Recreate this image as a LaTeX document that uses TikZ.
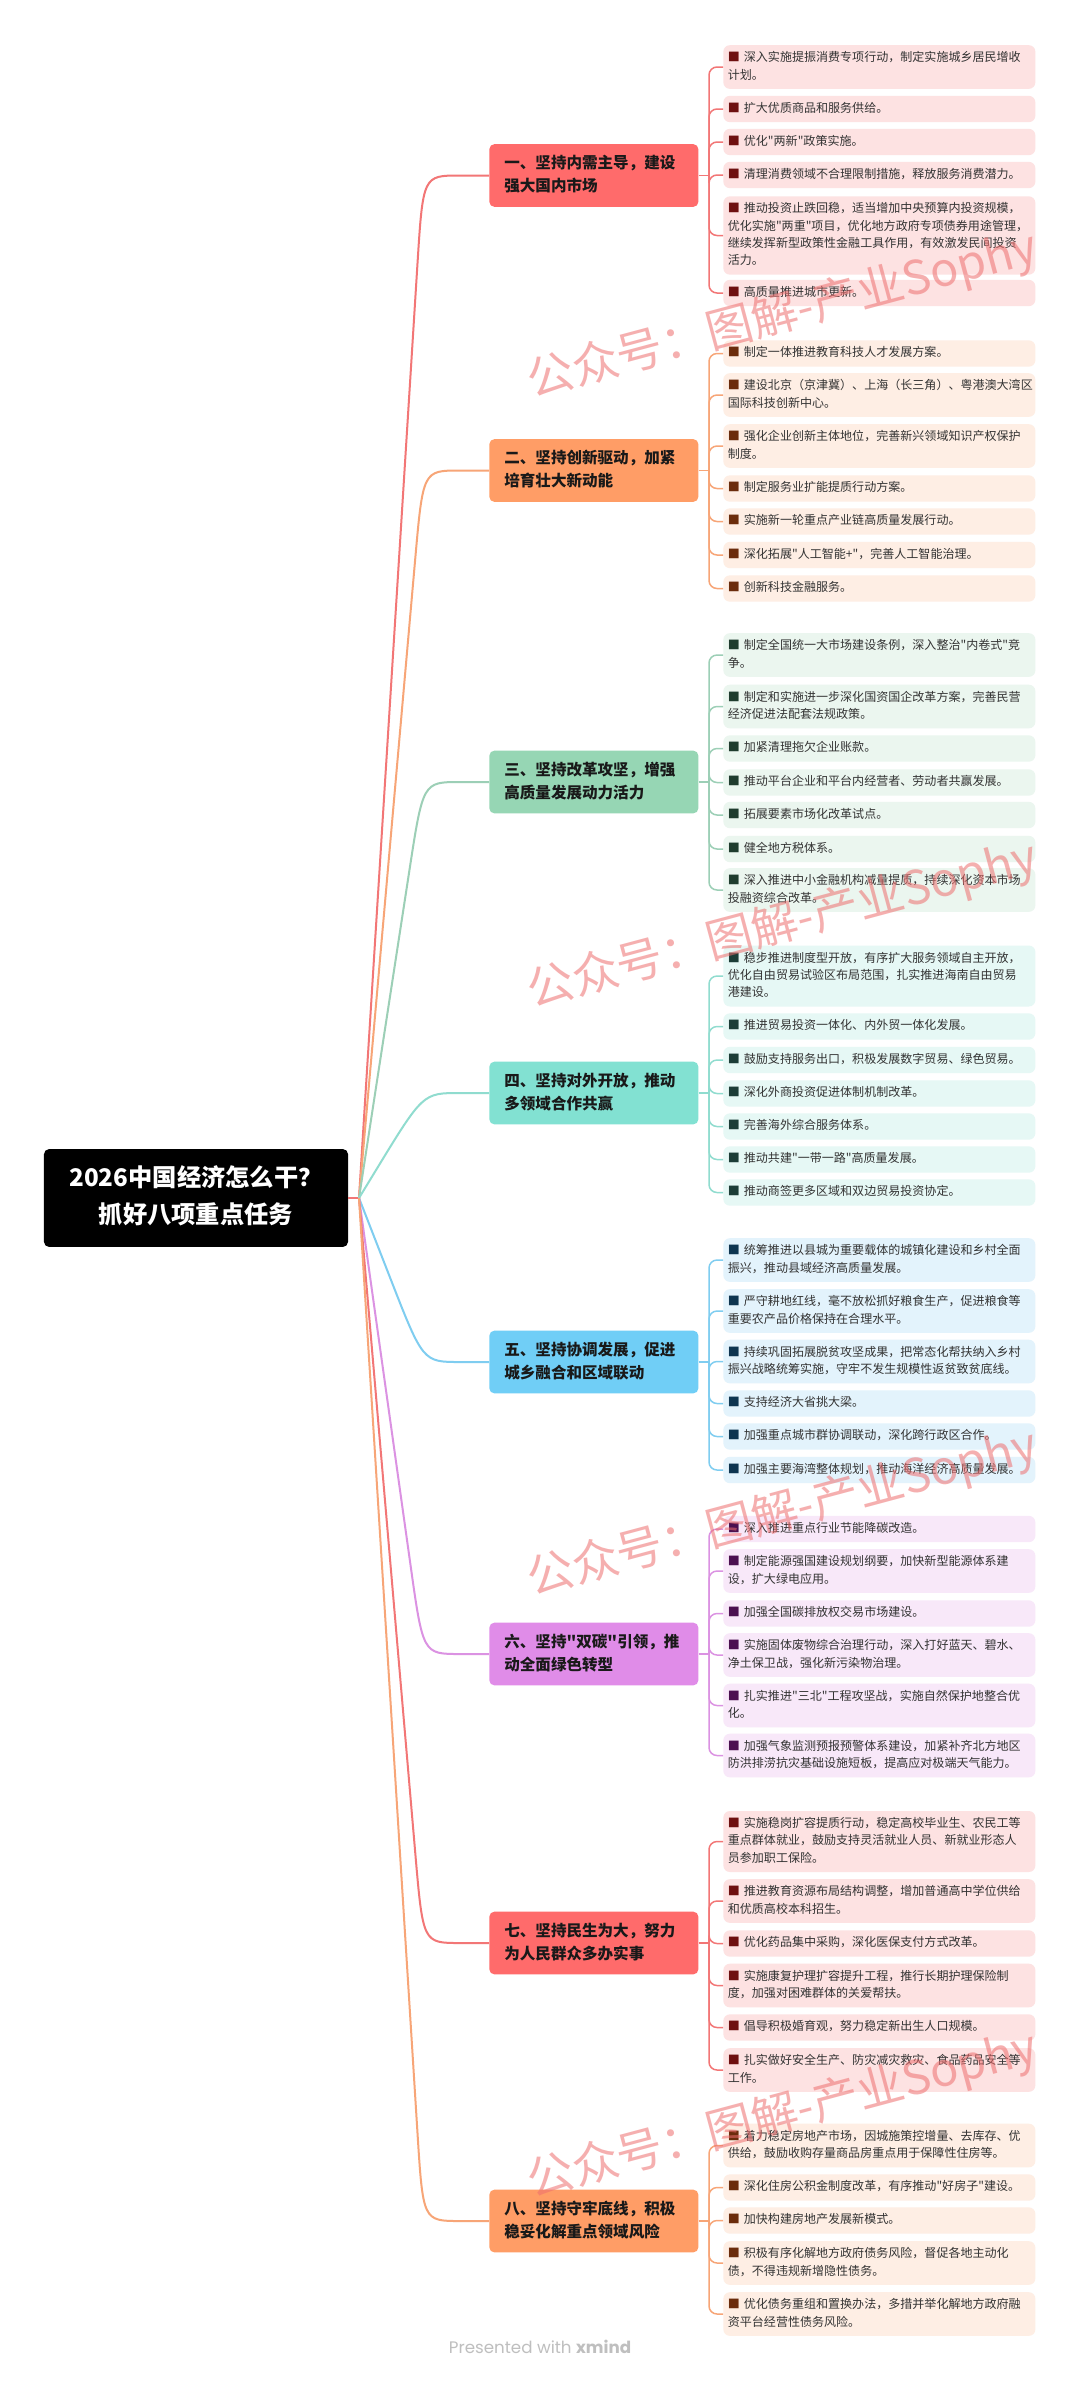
\documentclass[tikz,border=0pt]{standalone}
\usepackage{fontspec}
\setmainfont{Noto Sans CJK SC}
\newfontfamily\cjk{Noto Sans CJK SC}
\newfontfamily\xmfont{Poppins}
\usetikzlibrary{calc}

\definecolor{redB}{HTML}{FF6B6B}
\definecolor{redC}{HTML}{F27676}
\definecolor{redL}{HTML}{FDE2E2}
\definecolor{redM}{HTML}{6E1010}
\definecolor{orgB}{HTML}{FF9D66}
\definecolor{orgC}{HTML}{F7A577}
\definecolor{orgL}{HTML}{FEEEE4}
\definecolor{orgM}{HTML}{6B2C0C}
\definecolor{grnB}{HTML}{96D6B4}
\definecolor{grnC}{HTML}{9CCFB6}
\definecolor{grnL}{HTML}{EBF6EF}
\definecolor{grnM}{HTML}{1F3C2E}
\definecolor{teaB}{HTML}{82E1D2}
\definecolor{teaC}{HTML}{90DCCF}
\definecolor{teaL}{HTML}{E6F8F5}
\definecolor{teaM}{HTML}{1C3D37}
\definecolor{bluB}{HTML}{70CEF6}
\definecolor{bluC}{HTML}{7FCDF0}
\definecolor{bluL}{HTML}{E3F3FC}
\definecolor{bluM}{HTML}{0E3550}
\definecolor{purB}{HTML}{E08CE8}
\definecolor{purC}{HTML}{DB92E2}
\definecolor{purL}{HTML}{F8E8F9}
\definecolor{purM}{HTML}{4B1050}
\definecolor{wmark}{HTML}{EE6E6E}

\begin{document}
\begin{tikzpicture}[x=0.2mm, y=-0.2mm,
  leaf/.style={anchor=west, rounded corners=1.3mm, text width=60.6mm, inner xsep=0.9mm,
    inner ysep=0.9mm, align=left, text=black!80, font=\cjk\fontsize{6.85pt}{9.86pt}\selectfont},
  topic/.style={anchor=west, rounded corners=1mm, text width=35.8mm, inner xsep=3mm,
    inner ysep=1.7mm, align=left, text=black!90, font=\cjk\fontsize{8.85pt}{13pt}\selectfont\bfseries},
  twig/.style={line width=0.3mm, rounded corners=1.6mm},
  trunk/.style={line width=0.4mm},
  wm/.style={anchor=west, rotate=15, inner sep=0pt, text=wmark, opacity=0.55,
    font=\cjk\fontsize{26.5pt}{26.5pt}\selectfont}]
  \useasboundingbox[fill=white] (0,0) rectangle (1080,2381);

  \node[fill=black, text=white, rounded corners=1mm, minimum width=60.8mm, inner ysep=2.4mm,
    align=center, font=\cjk\fontsize{13.8pt}{21pt}\selectfont\bfseries] (root) at (196,1198)
    {\strut 2026中国经济怎么干？\\抓好八项重点任务\strut};

  % 一
  \node[topic, fill=redB] (t1) at (489,175.5) {\strut 一、坚持内需主导，建设\\强大国内市场\strut};
  \coordinate (j1) at (709,175.5);
  \draw[twig, redC] (t1.east) -- (j1);
  \foreach \y/\txt [count=\i] in {67/{深入实施提振消费专项行动，制定实施城乡居民增收\\计划。},
      109/{扩大优质商品和服务供给。}, 142/{优化"两新"政策实施。},
      175/{清理消费领域不合理限制措施，释放服务消费潜力。},
      235.5/{推动投资止跌回稳，适当增加中央预算内投资规模，\\优化实施"两重"项目，优化地方政府专项债券用途管理，\\继续发挥新型政策性金融工具作用，有效激发民间投资\\活力。},
      293/{高质量推进城市更新。}}
    {\node[leaf, fill=redL] (a\i) at (723,\y) {\strut\textcolor{redM}{■}~\txt\strut};
     \draw[twig, redC] (j1) |- (a\i.west);}

  % 二
  \node[topic, fill=orgB] (t2) at (489,470.5) {\strut 二、坚持创新驱动，加紧\\培育壮大新动能\strut};
  \coordinate (j2) at (709,470.5);
  \draw[twig, orgC] (t2.east) -- (j2);
  \foreach \y/\txt [count=\i] in {353.5/{制定一体推进教育科技人才发展方案。},
      395/{建设北京（京津冀）、上海（长三角）、粤港澳大湾区\\国际科技创新中心。},
      446/{强化企业创新主体地位，完善新兴领域知识产权保护\\制度。},
      488.5/{制定服务业扩能提质行动方案。}, 521.5/{实施新一轮重点产业链高质量发展行动。},
      555/{深化拓展"人工智能+"，完善人工智能治理。}, 588.5/{创新科技金融服务。}}
    {\node[leaf, fill=orgL] (b\i) at (723,\y) {\strut\textcolor{orgM}{■}~\txt\strut};
     \draw[twig, orgC] (j2) |- (b\i.west);}

  % 三
  \node[topic, fill=grnB] (t3) at (489,782) {\strut 三、坚持改革攻坚，增强\\高质量发展动力活力\strut};
  \coordinate (j3) at (709,782);
  \draw[twig, grnC] (t3.east) -- (j3);
  \foreach \y/\txt [count=\i] in {655/{制定全国统一大市场建设条例，深入整治"内卷式"竞\\争。},
      706.5/{制定和实施进一步深化国资国企改革方案，完善民营\\经济促进法配套法规政策。},
      748.5/{加紧清理拖欠企业账款。}, 782.5/{推动平台企业和平台内经营者、劳动者共赢发展。},
      815/{拓展要素市场化改革试点。}, 849/{健全地方税体系。},
      890/{深入推进中小金融机构减量提质，持续深化资本市场\\投融资综合改革。}}
    {\node[leaf, fill=grnL] (c\i) at (723,\y) {\strut\textcolor{grnM}{■}~\txt\strut};
     \draw[twig, grnC] (j3) |- (c\i.west);}

  % 四
  \node[topic, fill=teaB] (t4) at (489,1093) {\strut 四、坚持对外开放，推动\\多领域合作共赢\strut};
  \coordinate (j4) at (709,1093);
  \draw[twig, teaC] (t4.east) -- (j4);
  \foreach \y/\txt [count=\i] in {976/{稳步推进制度型开放，有序扩大服务领域自主开放，\\优化自由贸易试验区布局范围，扎实推进海南自由贸易\\港建设。},
      1026.5/{推进贸易投资一体化、内外贸一体化发展。},
      1060/{鼓励支持服务出口，积极发展数字贸易、绿色贸易。},
      1093.5/{深化外商投资促进体制机制改革。}, 1126.5/{完善海外综合服务体系。},
      1159.5/{推动共建"一带一路"高质量发展。}, 1192.5/{推动商签更多区域和双边贸易投资协定。}}
    {\node[leaf, fill=teaL] (d\i) at (723,\y) {\strut\textcolor{teaM}{■}~\txt\strut};
     \draw[twig, teaC] (j4) |- (d\i.west);}

  % 五
  \node[topic, fill=bluB] (t5) at (489,1362) {\strut 五、坚持协调发展，促进\\城乡融合和区域联动\strut};
  \coordinate (j5) at (709,1362);
  \draw[twig, bluC] (t5.east) -- (j5);
  \foreach \y/\txt [count=\i] in {1260/{统筹推进以县城为重要载体的城镇化建设和乡村全面\\振兴，推动县域经济高质量发展。},
      1311/{严守耕地红线，毫不放松抓好粮食生产，促进粮食等\\重要农产品价格保持在合理水平。},
      1361.5/{持续巩固拓展脱贫攻坚成果，把常态化帮扶纳入乡村\\振兴战略统筹实施，守牢不发生规模性返贫致贫底线。},
      1403.5/{支持经济大省挑大梁。}, 1436.5/{加强重点城市群协调联动，深化跨行政区合作。},
      1470/{加强主要海湾整体规划，推动海洋经济高质量发展。}}
    {\node[leaf, fill=bluL] (e\i) at (723,\y) {\strut\textcolor{bluM}{■}~\txt\strut};
     \draw[twig, bluC] (j5) |- (e\i.west);}

  % 六
  \node[topic, fill=purB] (t6) at (489,1654) {\strut 六、坚持"双碳"引领，推\\动全面绿色转型\strut};
  \coordinate (j6) at (709,1654);
  \draw[twig, purC] (t6.east) -- (j6);
  \foreach \y/\txt [count=\i] in {1529/{深入推进重点行业节能降碳改造。},
      1571/{制定能源强国建设规划纲要，加快新型能源体系建\\设，扩大绿电应用。},
      1613.5/{加强全国碳排放权交易市场建设。},
      1655/{实施固体废物综合治理行动，深入打好蓝天、碧水、\\净土保卫战，强化新污染物治理。},
      1705.5/{扎实推进"三北"工程攻坚战，实施自然保护地整合优\\化。},
      1755.5/{加强气象监测预报预警体系建设，加紧补齐北方地区\\防洪排涝抗灾基础设施短板，提高应对极端天气能力。}}
    {\node[leaf, fill=purL] (f\i) at (723,\y) {\strut\textcolor{purM}{■}~\txt\strut};
     \draw[twig, purC] (j6) |- (f\i.west);}

  % 七
  \node[topic, fill=redB] (t7) at (489,1943) {\strut 七、坚持民生为大，努力\\为人民群众多办实事\strut};
  \coordinate (j7) at (709,1943);
  \draw[twig, redC] (t7.east) -- (j7);
  \foreach \y/\txt [count=\i] in {1841.5/{实施稳岗扩容提质行动，稳定高校毕业生、农民工等\\重点群体就业，鼓励支持灵活就业人员、新就业形态人\\员参加职工保险。},
      1901/{推进教育资源布局结构调整，增加普通高中学位供给\\和优质高校本科招生。},
      1943.5/{优化药品集中采购，深化医保支付方式改革。},
      1985.5/{实施康复护理扩容提升工程，推行长期护理保险制\\度，加强对困难群体的关爱帮扶。},
      2027.5/{倡导积极婚育观，努力稳定新出生人口规模。},
      2070/{扎实做好安全生产、防灾减灾救灾、食品药品安全等\\工作。}}
    {\node[leaf, fill=redL] (g\i) at (723,\y) {\strut\textcolor{redM}{■}~\txt\strut};
     \draw[twig, redC] (j7) |- (g\i.west);}

  % 八
  \node[topic, fill=orgB] (t8) at (489,2221) {\strut 八、坚持守牢底线，积极\\稳妥化解重点领域风险\strut};
  \coordinate (j8) at (709,2221);
  \draw[twig, orgC] (t8.east) -- (j8);
  \foreach \y/\txt [count=\i] in {2145.5/{着力稳定房地产市场，因城施策控增量、去库存、优\\供给，鼓励收购存量商品房重点用于保障性住房等。},
      2187.5/{深化住房公积金制度改革，有序推动"好房子"建设。},
      2220.5/{加快构建房地产发展新模式。},
      2263/{积极有序化解地方政府债务风险，督促各地主动化\\债，不得违规新增隐性债务。},
      2314/{优化债务重组和置换办法，多措并举化解地方政府融\\资平台经营性债务风险。}}
    {\node[leaf, fill=orgL] (h\i) at (723,\y) {\strut\textcolor{orgM}{■}~\txt\strut};
     \draw[twig, orgC] (j8) |- (h\i.west);}

  % root to the eight topics
  \coordinate (hub) at (359,1198);
  \draw[trunk, redC] (root.east) -- (hub);
  \foreach \k/\yb/\c in {1/175.5/redC, 2/470.5/orgC, 3/782/grnC, 4/1093/teaC,
      5/1362/bluC, 6/1654/purC, 7/1943/redC, 8/2221/orgC}
    \draw[trunk, \c] (hub) -- ($(423,\yb)!18mm!(hub)$) .. controls (423,\yb) .. (460,\yb) -- (t\k.west);

  \node[font=\xmfont\fontsize{9.5pt}{11pt}\selectfont, text=black!25] (credit) at (540,2347)
    {Presented with \textbf{xmind}};

  \foreach \wy in {384, 994, 1582, 2184}
    \node[wm] at (528,\wy) {公众号：图解-产业Sophy};
\end{tikzpicture}
\end{document}
